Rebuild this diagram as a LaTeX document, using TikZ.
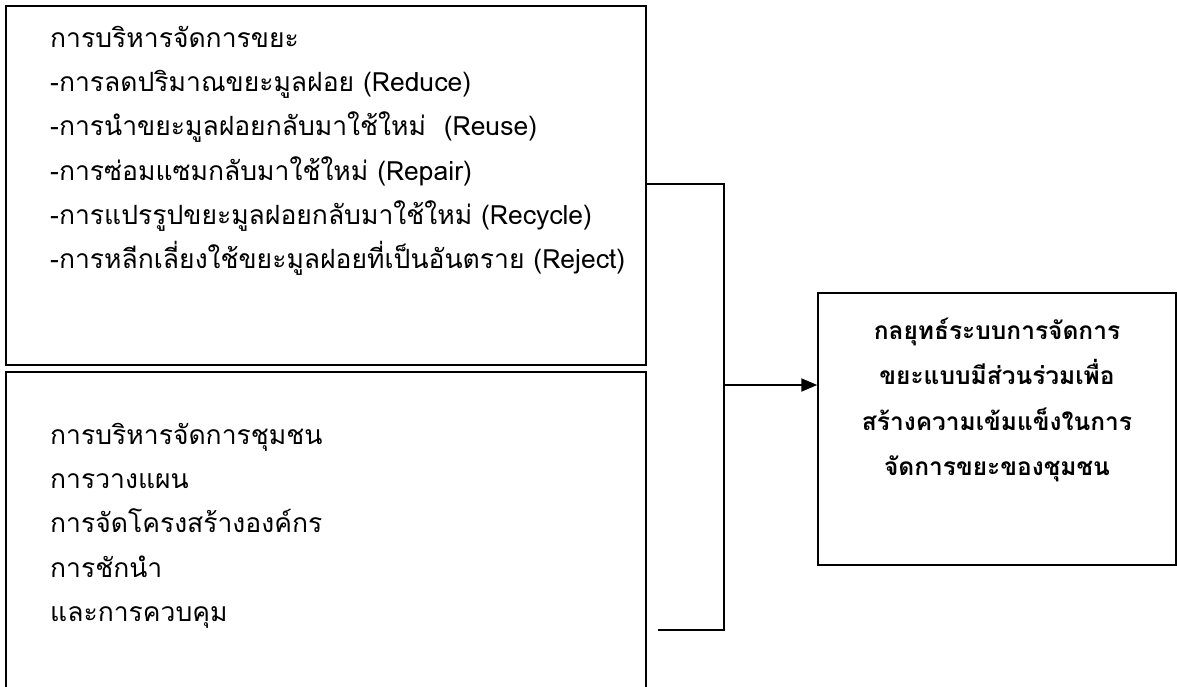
\documentclass[tikz,border=0pt]{standalone}
\usepackage{fontspec}
\newfontfamily\thaifont[Script=Thai]{Loma}
\usetikzlibrary{arrows.meta}
\tikzset{
  box/.style={draw, line width=1.5pt, inner sep=0pt},
  boxtext/.style={anchor=north west, align=left, inner sep=0pt,
    font=\thaifont\fontsize{26.5}{44.2}\selectfont},
  link/.style={line width=2pt}
}
\begin{document}
\begin{tikzpicture}[x=1pt,y=-1pt]
        \useasboundingbox (0,0) rectangle (1177,686);
        \clip (0,0) rectangle (1177,686);
        % the three boxes
        \node[box, minimum width=640pt, minimum height=359pt] (waste) at (326,185.5) {};
        \node[box, minimum width=640pt, minimum height=340pt] (community) at (326,542) {};
        \node[box, minimum width=358pt, minimum height=272pt] (strategy) at (997,429) {};
        \node[boxtext] (wastetext) at (50,26) {การบริหารจัดการขยะ\\
          -การลดปริมาณขยะมูลฝอย (Reduce)\\
          -การนำขยะมูลฝอยกลับมาใช้ใหม่\ \ (Reuse)\\
          -การซ่อมแซมกลับมาใช้ใหม่ (Repair)\\
          -การแปรรูปขยะมูลฝอยกลับมาใช้ใหม่ (Recycle)\\
          -การหลีกเลี่ยงใช้ขยะมูลฝอยที่เป็นอันตราย (Reject)};
        \node[boxtext] (communitytext) at (50,423) {การบริหารจัดการชุมชน\\
          การวางแผน\\
          การจัดโครงสร้างองค์กร\\
          การชักนำ\\
          และการควบคุม};
        \node[align=center, inner sep=0pt, font=\thaifont\bfseries\fontsize{24.5}{45.5}\selectfont]
          (strategytext) at (997,400) {กลยุทธ์ระบบการจัดการ\\
          ขยะแบบมีส่วนร่วมเพื่อ\\
          สร้างความเข้มแข็งในการ\\
          จัดการขยะของชุมชน};
        % connectors
        \coordinate (jtop) at (724,184);
        \coordinate (jbot) at (724,630);
        \coordinate (bstart) at (658,630);
        \coordinate (jmid) at (724,385);
        \draw[link] (waste.east |- jtop) -- (jtop) -- (jbot) -- (bstart);
        \draw[link, -{Triangle[length=16pt,width=13pt]}] (jmid) -- (strategy.west |- jmid);
    \end{tikzpicture}
\end{document}
